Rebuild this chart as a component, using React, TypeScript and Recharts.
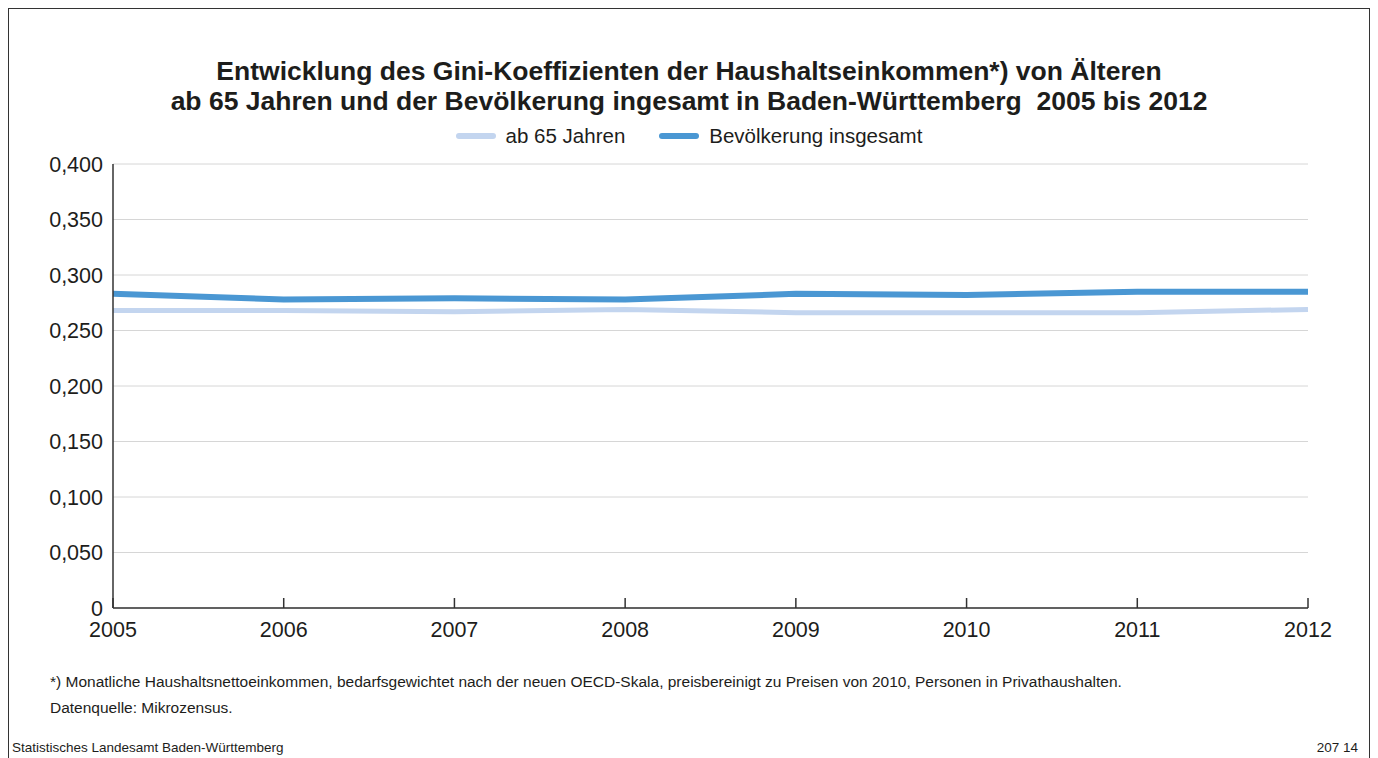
import React from "react"
import { LineChart, Line, XAxis, YAxis, CartesianGrid, Legend } from "recharts"

const years = ["2005", "2006", "2007", "2008", "2009", "2010", "2011", "2012"]
const ab65 = [0.268, 0.268, 0.267, 0.269, 0.266, 0.266, 0.266, 0.269]
const gesamt = [0.283, 0.278, 0.279, 0.278, 0.283, 0.282, 0.285, 0.285]
const yTicks = [0, 0.05, 0.1, 0.15, 0.2, 0.25, 0.3, 0.35, 0.4]

const SERIES = [
  { key: "ab65", name: "ab 65 Jahren", color: "#c3d5ef", width: 5 },
  { key: "gesamt", name: "Bevölkerung insgesamt", color: "#4a97d3", width: 6 },
]

const FONT = "'Liberation Sans', Arial, sans-serif"
const TEXT = "#1d1d1b"

function formatTick(v: number) {
  if (v === 0) return "0"
  return v.toFixed(3).replace(".", ",")
}

function LegendContent() {
  return (
    <div style={{ display: "flex", justifyContent: "center", gap: 34, fontFamily: FONT, fontSize: 20.5, lineHeight: "24px", color: TEXT }}>
      {SERIES.map(s => (
        <div key={s.key} style={{ display: "flex", alignItems: "center", gap: 10 }}>
          <div style={{ width: 40, height: 6, borderRadius: 3, backgroundColor: s.color }} />
          <span>{s.name}</span>
        </div>
      ))}
    </div>
  )
}

export default function App() {
  const data = years.map((y, i) => ({ year: y, ab65: ab65[i], gesamt: gesamt[i] }))

  return (
    <div style={{ position: "relative", width: 1362, height: 750, fontFamily: FONT, color: TEXT }}>
      {/* frame: left, top, right */}
      <div style={{ position: "absolute", left: 0, top: 0, width: 1362, height: 760, boxSizing: "border-box", borderLeft: "1px solid #333", borderTop: "1px solid #333", borderRight: "1px solid #333" }} />

      <div style={{ position: "absolute", left: 0, top: 48, width: 1362, textAlign: "center", fontWeight: "bold", fontSize: 26.5, lineHeight: "30px", whiteSpace: "pre" }}>
        {"Entwicklung des Gini-Koeffizienten der Haushaltseinkommen*) von Älteren\nab 65 Jahren und der Bevölkerung ingesamt in Baden-Württemberg  2005 bis 2012"}
      </div>

      <div style={{ position: "absolute", left: 0, top: 0 }}>
        <LineChart width={1362} height={650} data={data} margin={{ top: 132, right: 62, bottom: 20, left: 0 }}>
          <CartesianGrid horizontal vertical={false} stroke="#d6d6d6" strokeWidth={1} />
          <XAxis
            dataKey="year"
            height={30}
            stroke="#333"
            strokeWidth={1.5}
            tickSize={-10}
            tickMargin={24}
            tick={{ fill: TEXT, fontSize: 21.5, fontFamily: FONT }}
            interval={0}
          />
          <YAxis
            domain={[0, 0.4]}
            ticks={yTicks}
            tickFormatter={formatTick}
            width={105}
            stroke="#333"
            strokeWidth={1.5}
            tickLine={false}
            tickSize={8}
            tickMargin={2}
            tick={{ fill: TEXT, fontSize: 21.5, fontFamily: FONT }}
            interval={0}
          />
          <Legend verticalAlign="top" height={24} content={<LegendContent />} wrapperStyle={{ top: 116, left: 0, width: 1362 }} />
          {SERIES.map(s => (
            <Line
              key={s.key}
              type="linear"
              dataKey={s.key}
              name={s.name}
              stroke={s.color}
              strokeWidth={s.width}
              dot={false}
              activeDot={false}
              isAnimationActive={false}
            />
          ))}
        </LineChart>
      </div>

      <div style={{ position: "absolute", left: 42, top: 665, fontSize: 15.5 }}>
        *) Monatliche Haushaltsnettoeinkommen, bedarfsgewichtet nach der neuen OECD-Skala, preisbereinigt zu Preisen von 2010, Personen in Privathaushalten.
      </div>
      <div style={{ position: "absolute", left: 42, top: 691, fontSize: 15.5 }}>
        Datenquelle: Mikrozensus.
      </div>
      <div style={{ position: "absolute", left: 4, top: 732, fontSize: 13.5 }}>
        Statistisches Landesamt Baden-Württemberg
      </div>
      <div style={{ position: "absolute", right: 12, top: 732, fontSize: 13.5 }}>
        207 14
      </div>
    </div>
  )
}
